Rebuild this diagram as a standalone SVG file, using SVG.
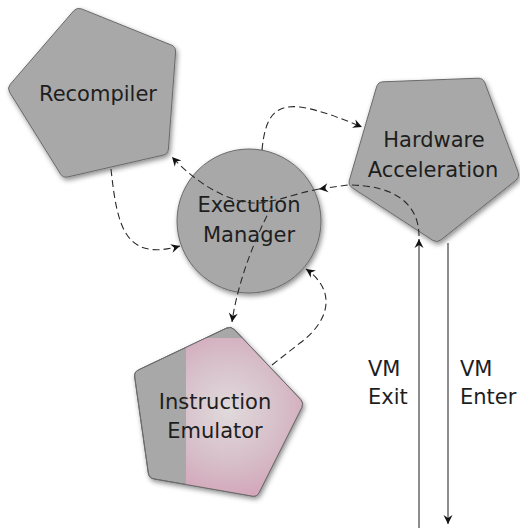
<svg xmlns="http://www.w3.org/2000/svg" width="520" height="528" viewBox="0 0 520 528">
  <defs>
    <style>
      .node { fill: #a8a8a8; stroke: #6a6a6a; stroke-width: 1; stroke-linejoin: round; }
      .label { font-family: "DejaVu Sans", "Liberation Sans", sans-serif; font-size: 21px; fill: #1e1e1e; text-anchor: middle; }
      .side { font-family: "DejaVu Sans", "Liberation Sans", sans-serif; font-size: 21px; fill: #1e1e1e; }
      .dash { fill: none; stroke: #2a2a2a; stroke-width: 1.1; stroke-dasharray: 7 4; }
      .solid { fill: none; stroke: #1a1a1a; stroke-width: 1; }
    </style>
    <marker id="tip" viewBox="-10 -5 11 10" refX="0" refY="0" markerWidth="11" markerHeight="10" markerUnits="userSpaceOnUse" orient="auto">
      <path d="M0,0 L-9,-4.5 L-6,0 L-9,4.5 Z" fill="#111"/>
    </marker>
    <filter id="shadow" x="-20%" y="-20%" width="140%" height="140%">
      <feDropShadow dx="1.5" dy="2.5" stdDeviation="2.5" flood-color="#000" flood-opacity="0.45"/>
    </filter>
    <radialGradient id="pink" cx="228" cy="410" r="95" gradientUnits="userSpaceOnUse">
      <stop offset="0" stop-color="#e0dadc"/>
      <stop offset="0.6" stop-color="#d6bcc7"/>
      <stop offset="1" stop-color="#d3a2b7"/>
    </radialGradient>
    <path id="emuShape" d="M234.4,329.6 L300.6,399.4 Q304,403 301.8,407.5 L259.2,492.5 Q257,497 252.1,496.1 L153.9,478.9 Q149,478 148.3,473 L134.7,377 Q134,372 138.5,369.9 L226.5,328.1 Q231,326 234.4,329.6 Z"/>
    <clipPath id="emuClip">
      <use href="#emuShape"/>
    </clipPath>
  </defs>

  <!-- nodes: rounded pentagons and a circle -->
  <g id="recompiler">
    <path class="node" filter="url(#shadow)" d="M81.6,8.9 L171.4,45.1 Q176,47 175.6,52 L168.4,149 Q168,154 163.1,155.1 L67.9,176.9 Q63,178 60.4,173.8 L9.6,92.2 Q7,88 10.3,84.2 L73.7,10.8 Q77,7 81.6,8.9 Z"/>
    <text class="label" x="98" y="101">Recompiler</text>
  </g>

  <g id="hardware-acceleration">
    <path class="node" filter="url(#shadow)" d="M383,81.8 L478,78.2 Q483,78 484.8,82.7 L518.2,172.3 Q520,177 516.1,180.1 L440.9,239.9 Q437,243 432.8,240.3 L352.2,187.7 Q348,185 349.4,180.2 L376.6,86.8 Q378,82 383,81.8 Z"/>
    <text class="label" x="434" y="147">Hardware</text>
    <text class="label" x="433" y="177">Acceleration</text>
  </g>

  <g id="execution-manager">
    <circle class="node" filter="url(#shadow)" cx="249" cy="221" r="72"/>
    <text class="label" x="249" y="212">Execution</text>
    <text class="label" x="249" y="242">Manager</text>
  </g>

  <g id="instruction-emulator">
    <use href="#emuShape" class="node" filter="url(#shadow)"/>
    <rect x="186" y="338" width="130" height="170" fill="url(#pink)" clip-path="url(#emuClip)"/>
    <use href="#emuShape" fill="none" stroke="#6a6a6a" stroke-width="1"/>
    <text class="label" x="215" y="409">Instruction</text>
    <text class="label" x="215" y="438">Emulator</text>
  </g>

  <!-- connectors -->
  <g id="connectors">
    <path class="dash" marker-end="url(#tip)" d="M111,169 C117,225 124,262 180,246"/>
    <path class="dash" marker-end="url(#tip)" d="M262,150 C265,118 274,104 300,107 C320,110 340,118 362,127"/>
    <path class="dash" marker-end="url(#tip)" d="M419,236 C419,205 396,185 348,185 L319,189"/>
    <path class="dash" marker-end="url(#tip)" d="M319,189 C292,194 272,204 252,203 C226,201 195,182 172,157"/>
    <path class="dash" marker-end="url(#tip)" d="M272,206 C256,236 238,280 232,322"/>
    <path class="dash" marker-end="url(#tip)" d="M272,365 L300,343 C331,320 336,290 306,269"/>
    <path class="solid" marker-end="url(#tip)" d="M419,528 L419,239"/>
    <path class="solid" marker-end="url(#tip)" d="M448,243 L448,524"/>
  </g>

  <g id="side-labels">
    <text class="side" x="368" y="376">VM</text>
    <text class="side" x="368" y="404">Exit</text>
    <text class="side" x="460" y="376">VM</text>
    <text class="side" x="460" y="404">Enter</text>
  </g>
</svg>
